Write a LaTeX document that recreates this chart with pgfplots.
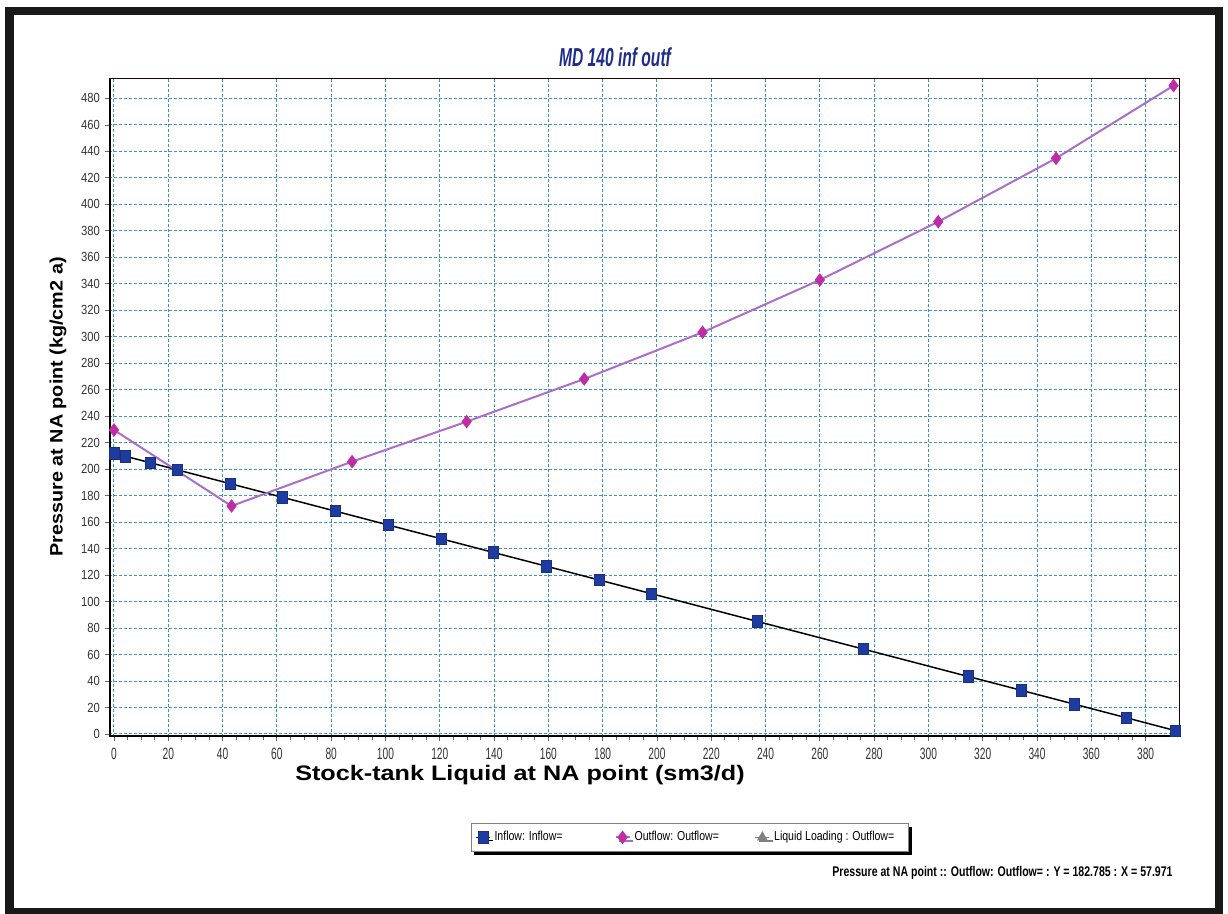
\documentclass[border=0pt]{standalone}
\usepackage{fontspec}
\setmainfont{Liberation Sans}
\newfontfamily\xtf[FakeStretch=0.62]{Liberation Sans}
\newfontfamily\ytf[FakeStretch=0.85]{Liberation Sans}
\newfontfamily\legf[FakeStretch=0.81]{Liberation Sans}
\newfontfamily\titf[FakeStretch=0.6]{Liberation Sans}
\newfontfamily\botf[FakeStretch=0.755]{Liberation Sans}
\newfontfamily\xlf[FakeStretch=1.2]{Liberation Sans}
\newfontfamily\ylf[FakeStretch=1.1]{Liberation Sans}
\usepackage{pgfplots}
\pgfplotsset{compat=1.18}
\usetikzlibrary{shadows}
\definecolor{gridblue}{RGB}{60,150,190}
\definecolor{inblue}{RGB}{30,60,160}
\definecolor{outmag}{RGB}{190,45,165}
\definecolor{outline}{RGB}{170,110,200}
\definecolor{titblue}{RGB}{30,45,140}
\begin{document}
\begin{tikzpicture}[x=1pt,y=1pt]
\useasboundingbox (0,0) rectangle (614,457);
\begin{axis}[
  at={(54.5pt,88.65pt)}, anchor=south west, scale only axis,
  width=535pt, height=328.85pt,
  xmin=-1.84, xmax=392.3, ymin=-2.04, ymax=494.7,
  xtick={0,20,...,380}, ytick={0,20,...,480},
  minor x tick num=3,
  xtick pos=bottom, ytick pos=left,
  tick align=outside, major tick length=2pt, minor tick length=1.5pt,
  tick style={black!60, line width=0.4pt},
  grid=major,
  major grid style={gridblue, line width=0.5pt, dash pattern=on 1.5pt off 1pt},
  axis line style={black!85!red, line width=0.5pt},
  /pgf/number format/assume math mode=true,
  xticklabel style={font=\xtf\fontsize{8.2}{9}\selectfont, text=black!80},
  yticklabel style={font=\ytf\fontsize{6.6}{8}\selectfont, text=black!80, xshift=1pt},
  legend columns=3,
  legend style={at={(0.338,-0.1308)}, anchor=north west, draw=black!50,
    line width=0.4pt, fill=white, font=\legf\fontsize{6.5}{7.5}\selectfont,
    inner sep=2pt,
    drop shadow={fill=black, opacity=1, shadow xshift=1.7pt, shadow yshift=-1.7pt}},
  legend image code/.code={\draw[mark repeat=2,mark phase=2,#1] plot coordinates {(0pt,0pt)(3.5pt,0pt)(7pt,0pt)};},
]
\draw[black, line width=1.6pt] (rel axis cs:0,1) -- (rel axis cs:0,0) -- (rel axis cs:1,0);
\addplot[black, line width=0.75pt, mark=square*, mark size=2.5pt,
  mark options={fill=inblue, draw=inblue!80!black, yscale=1.15, line width=0.3pt}]
  coordinates {
  (0,212.0) (4,209.9) (13.5,204.8) (23.3,199.5) (42.7,189.1) (62,178.8)
  (81.4,168.4) (100.9,157.9) (120.4,147.5) (139.8,137.1) (159.3,126.7)
  (178.7,116.3) (198.1,105.9) (237,85.0) (275.9,64.2) (314.7,43.4)
  (334.2,33.0) (353.6,22.6) (373,12.2) (391,2.5)
  };
\addlegendentry{\makebox[58pt][l]{Inflow: Inflow=}}
\addplot[outline, line width=1pt, mark=diamond*, mark size=2.6pt,
  mark options={fill=outmag, draw=outmag}]
  coordinates {
  (0,229.6) (43.3,172.2) (87.7,205.7) (129.9,235.9) (173.2,268.1)
  (216.8,303.4) (260,342.9) (303.6,386.9) (347,434.8) (390.3,489.7)
  };
\addlegendentry{\makebox[58pt][l]{Outflow: Outflow=}}
\addlegendimage{black!50, line width=0.8pt, mark=triangle*, mark size=2.3pt, mark options={fill=black!50}}
\addlegendentry{\makebox[63pt][l]{Liquid Loading : Outflow=}}
\end{axis}
\node[text=titblue, font=\titf\bfseries\itshape\fontsize{13}{15}\selectfont] at (307.5,428.5) {MD 140 inf outf};
\node[font=\xlf\bfseries\fontsize{10.5}{12}\selectfont] at (260,69.5) {Stock-tank Liquid at NA point (sm3/d)};
\node[rotate=90, font=\ylf\bfseries\fontsize{9}{10}\selectfont] at (29,253.5) {Pressure at NA point (kg/cm2 a)};
\node[anchor=east, inner sep=0pt, font=\botf\bfseries\fontsize{7}{8}\selectfont] at (586.5,20.5) {Pressure at NA point :: Outflow: Outflow= : Y = 182.785 : X = 57.971};
\draw[line width=4.4pt, black!90] (4.75,0.9) rectangle (609.5,451.5);
\end{tikzpicture}
\end{document}
